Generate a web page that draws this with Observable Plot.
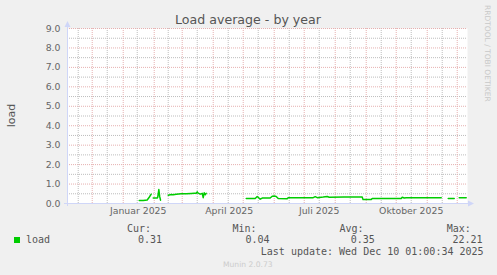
<!DOCTYPE html>
<html><head><meta charset="utf-8">
<script src="https://cdn.jsdelivr.net/npm/d3@7"></script>
<script src="https://cdn.jsdelivr.net/npm/@observablehq/plot@0.6"></script>
<style>
html,body{margin:0;padding:0;background:#F0F0F0;}
#chart svg{display:block;}
</style>
</head><body><div id="chart"></div>
<script>
// ---- texts ----
const title = "Load average - by year";
const yLabel = "load";
const seriesName = "load";
const sideText = "RRDTOOL / TOBI OETIKER";
const footer = "Munin 2.0.73";
const lastUpdate = "Last update: Wed Dec 10 01:00:34 2025";
const statLabels = ["Cur:", "Min:", "Avg:", "Max:"];
const statValues = ["0.31", "0.04", "0.35", "22.21"];

// ---- axes ----
const xDomain = ["2024-11-06T07:00", "2025-12-11T07:00"];
const yDomain = [0, 9];
const yTicks = [0, 1, 2, 3, 4, 5, 6, 7, 8, 9];
const yMinor = [0.5, 1.5, 2.5, 3.5, 4.5, 5.5, 6.5, 7.5, 8.5];
const monthStarts = ["2024-12-01","2025-01-01","2025-02-01","2025-03-01","2025-04-01","2025-05-01",
  "2025-06-01","2025-07-01","2025-08-01","2025-09-01","2025-10-01","2025-11-01","2025-12-01"];
const monthMids = ["2024-11-17","2024-12-16","2025-01-15","2025-02-15","2025-03-16","2025-04-16","2025-05-16",
  "2025-06-16","2025-07-16","2025-08-16","2025-09-16","2025-10-16","2025-11-16"];
const xLabelDates = ["2025-01-16", "2025-04-17", "2025-07-16", "2025-10-16"];
const xLabels = ["Januar 2025", "April 2025", "Juli 2025", "Oktober 2025"];

// ---- series (null = no data / gap) ----
const dates = [
  "2025-01-17","2025-01-21","2025-01-25","2025-01-27","2025-01-29","2025-01-30",
  "2025-01-31","2025-02-04","2025-02-04T12:00","2025-02-05T15:00","2025-02-06T12:00","2025-02-07T08:00","2025-02-10",
  "2025-02-15","2025-02-18","2025-02-20","2025-02-23","2025-02-28","2025-03-05","2025-03-10","2025-03-13",
  "2025-03-15","2025-03-16","2025-03-17","2025-03-19","2025-03-21","2025-03-22","2025-03-23","2025-03-24","2025-03-25","2025-04-01",
  "2025-05-04","2025-05-13","2025-05-15","2025-05-17","2025-05-18","2025-05-20","2025-05-28","2025-05-30",
  "2025-06-01","2025-06-03","2025-06-05","2025-06-14","2025-06-15","2025-07-10","2025-07-12","2025-07-14",
  "2025-07-20","2025-07-24","2025-07-26","2025-08-10","2025-08-25","2025-08-28","2025-08-28T20:00","2025-09-06",
  "2025-09-07","2025-10-06","2025-10-07","2025-10-09","2025-10-11","2025-11-15","2025-11-18",
  "2025-11-22","2025-11-28","2025-12-01",
  "2025-12-03","2025-12-10"
];
const loads = [
  0.15,0.15,0.18,0.32,0.48,null,
  0.28,0.28,0.32,0.72,0.35,0.17,null,
  0.43,0.46,0.45,0.48,0.50,0.50,0.52,0.53,
  0.53,0.60,0.53,0.48,0.52,0.30,0.55,0.45,0.52,null,
  0.26,0.26,0.36,0.27,0.22,0.28,0.28,0.37,
  0.38,0.36,0.26,0.25,0.30,0.30,0.35,0.30,
  0.33,0.36,0.32,0.33,0.33,0.33,0.20,0.20,
  0.26,0.26,0.32,0.28,0.30,0.30,null,
  0.26,0.26,null,
  0.30,0.30
];

const data = dates.map((d, i) => ({date: new Date(d), value: loads[i] == null ? NaN : loads[i]}));
const toDate = s => new Date(s);

const plot = Plot.plot({
  width: 497,
  height: 275,
  marginLeft: 67,
  marginRight: 30,
  marginTop: 28,
  marginBottom: 72,
  style: {background: "#F0F0F0", fontFamily: "DejaVu Sans", fontSize: "9.33px", color: "#666"},
  x: {type: "time", domain: xDomain.map(toDate), axis: null},
  y: {domain: yDomain, axis: null},
  marks: [
    Plot.frame({fill: "white", stroke: "none"}),
    Plot.ruleX(monthMids.map(toDate), {stroke: "#bdbdbd", strokeDasharray: "1,1"}),
    Plot.ruleY(yMinor, {stroke: "#bdbdbd", strokeDasharray: "1,1"}),
    Plot.ruleX(monthStarts.map(toDate), {stroke: "#e6b0b0", strokeDasharray: "1,1"}),
    Plot.ruleY(yTicks.slice(1), {stroke: "#e6b0b0", strokeDasharray: "1,1"}),
    Plot.text(yTicks, {y: d => d, frameAnchor: "left", dx: -7, textAnchor: "end", text: d => d.toFixed(1), fill: "#666", fontSize: 9.33}),
    Plot.text(xLabelDates.map((d, i) => ({date: toDate(d), label: xLabels[i]})),
      {x: "date", text: "label", frameAnchor: "bottom", dy: 10, fill: "#666", fontSize: 9.33}),
    Plot.line(data, {x: "date", y: "value", stroke: "#00CC00", strokeWidth: 1.5})
  ]
});

const svg = d3.select(plot);
const xs = plot.scale("x"), ys = plot.scale("y");
const x0 = xs.range[0], x1 = xs.range[1];
const yb = ys.range[0], yt = ys.range[1];
const axisColor = "#CFD6F8";
// axes + arrows
svg.append("line").attr("x1", x0 - 3).attr("x2", x1 + 3).attr("y1", yb + 0.5).attr("y2", yb + 0.5)
  .attr("stroke", axisColor);
svg.append("line").attr("x1", x0 + 0.5).attr("x2", x0 + 0.5).attr("y1", yb + 3).attr("y2", yt - 3)
  .attr("stroke", axisColor);
svg.append("path").attr("d", `M${x1 + 7},${yb + 0.5}L${x1 + 1},${yb - 2.5}L${x1 + 1},${yb + 3.5}Z`).attr("fill", axisColor);
svg.append("path").attr("d", `M${x0 + 0.5},${yt - 7}L${x0 - 2.5},${yt - 1}L${x0 + 3.5},${yt - 1}Z`).attr("fill", axisColor);

// title
svg.append("text").attr("x", 248).attr("y", 24).attr("text-anchor", "middle")
  .attr("font-family", "DejaVu Sans").attr("font-size", 12.6).attr("fill", "#555").text(title);
// y label
svg.append("text").attr("transform", `translate(14.5,${(yb + yt) / 2}) rotate(-90)`).attr("text-anchor", "middle")
  .attr("font-family", "DejaVu Sans").attr("font-size", 11).attr("fill", "#555").text(yLabel);
// side text
svg.append("text").attr("transform", "translate(485,5) rotate(90)").attr("text-anchor", "start")
  .attr("font-family", "DejaVu Sans").attr("font-size", 7.5).attr("fill", "#c8c8c8").text(sideText);

// legend
const mono = "DejaVu Sans Mono";
const txt = (x, y, s, opts = {}) => svg.append("text").attr("x", x).attr("y", y)
  .attr("text-anchor", "start").attr("font-family", opts.family || mono)
  .attr("font-size", opts.size || 10).attr("fill", opts.fill || "#555").text(s);
svg.append("rect").attr("x", 14).attr("y", 237).attr("width", 6).attr("height", 6).attr("fill", "#00CC00");
txt(26, 243, seriesName);
const headX = [127, 232.5, 339.5, 446.7];
const valX = [138, 245.5, 350.8, 452.5];
statLabels.forEach((s, i) => {
  txt(headX[i], 231.5, s);
  txt(valX[i], 243, statValues[i]);
});
txt(260.8, 254.5, lastUpdate);
txt(223, 266.7, footer, {family: "DejaVu Sans", size: 7.6, fill: "#ccc"});

document.getElementById("chart").appendChild(plot);
</script>
</body></html>
